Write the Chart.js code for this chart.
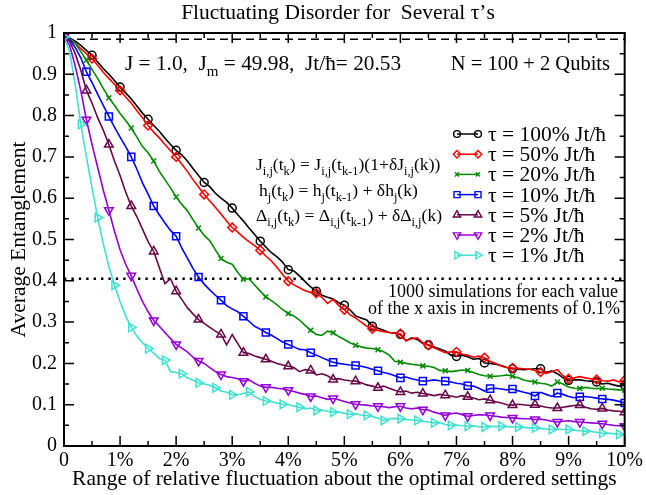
<!DOCTYPE html>
<html>
<head>
<meta charset="utf-8">
<script src="https://cdn.jsdelivr.net/npm/chart.js@4.4.0/dist/chart.umd.min.js"></script>
<style>
  html, body { margin: 0; padding: 0; background: #fff; }
</style>
</head>
<body>
<canvas id="chart" width="646" height="495"></canvas>
<script>
// x axis: 0% .. 10% in 0.1% steps (one point per simulation batch)
const fluctuation = Array.from({ length: 101 }, (_, i) => i / 10);
const xTicks = [0, 1, 2, 3, 4, 5, 6, 7, 8, 9, 10];
const yTicks = [0, 0.1, 0.2, 0.3, 0.4, 0.5, 0.6, 0.7, 0.8, 0.9, 1];

const seriesLabels = ['100%', '50%', '20%', '10%', '5%', '2%', '1%'];

const tau100 = [
  0.99, 0.988, 0.98, 0.97, 0.958, 0.946, 0.93, 0.914, 0.9, 0.885,
  0.869, 0.855, 0.84, 0.823, 0.806, 0.791, 0.776, 0.762, 0.745, 0.73,
  0.716, 0.705, 0.69, 0.672, 0.655, 0.638, 0.628, 0.612, 0.6, 0.59,
  0.576, 0.56, 0.545, 0.528, 0.512, 0.496, 0.482, 0.468, 0.458, 0.445,
  0.427, 0.424, 0.412, 0.398, 0.385, 0.375, 0.365, 0.36, 0.356, 0.347,
  0.341, 0.33, 0.315, 0.31, 0.305, 0.29, 0.285, 0.28, 0.275, 0.274,
  0.27, 0.255, 0.262, 0.258, 0.248, 0.245, 0.24, 0.235, 0.23, 0.22,
  0.217, 0.22, 0.216, 0.21, 0.212, 0.201, 0.2, 0.198, 0.195, 0.19,
  0.187, 0.186, 0.185, 0.186, 0.187, 0.187, 0.178, 0.182, 0.175, 0.165,
  0.159, 0.16, 0.16, 0.158, 0.157, 0.155, 0.15, 0.152, 0.148, 0.145,
  0.147
];
const tau50 = [
  0.99, 0.985, 0.975, 0.962, 0.95, 0.938, 0.922, 0.905, 0.89, 0.876,
  0.861, 0.845, 0.83, 0.812, 0.795, 0.776, 0.76, 0.746, 0.73, 0.715,
  0.7, 0.683, 0.665, 0.645, 0.627, 0.609, 0.593, 0.578, 0.562, 0.545,
  0.529, 0.518, 0.505, 0.495, 0.485, 0.474, 0.46, 0.448, 0.432, 0.415,
  0.399, 0.39, 0.383, 0.376, 0.372, 0.37, 0.36, 0.345, 0.355, 0.34,
  0.33, 0.318, 0.31, 0.3, 0.29, 0.284, 0.28, 0.277, 0.275, 0.273,
  0.272, 0.255, 0.26, 0.262, 0.25, 0.244, 0.238, 0.232, 0.226, 0.228,
  0.228, 0.222, 0.22, 0.215, 0.218, 0.214, 0.205, 0.2, 0.193, 0.19,
  0.189, 0.188, 0.187, 0.186, 0.183, 0.179, 0.176, 0.18, 0.185, 0.17,
  0.163, 0.165, 0.168, 0.165, 0.163, 0.161, 0.158, 0.157, 0.16, 0.155,
  0.159
];
const tau20 = [
  0.99, 0.988, 0.975, 0.955, 0.934, 0.912, 0.89, 0.866, 0.843, 0.825,
  0.805, 0.788, 0.77, 0.748, 0.725, 0.71, 0.69, 0.665, 0.645, 0.625,
  0.603, 0.585, 0.57, 0.548, 0.528, 0.51, 0.497, 0.475, 0.454, 0.445,
  0.44, 0.42, 0.404, 0.405, 0.39, 0.375, 0.361, 0.352, 0.342, 0.33,
  0.321, 0.315, 0.305, 0.292, 0.28, 0.27, 0.268, 0.278, 0.274, 0.265,
  0.258, 0.25, 0.244, 0.24, 0.237, 0.236, 0.233, 0.228, 0.22, 0.205,
  0.203, 0.2, 0.198, 0.196, 0.194, 0.193, 0.19, 0.183, 0.182, 0.18,
  0.182, 0.184, 0.183, 0.178, 0.173, 0.17, 0.169, 0.169, 0.17, 0.172,
  0.169, 0.165, 0.16, 0.157, 0.155, 0.152, 0.15, 0.145, 0.155, 0.15,
  0.143, 0.14, 0.139, 0.142, 0.14, 0.139, 0.14, 0.138, 0.137, 0.136,
  0.135
];
const tau10 = [
  0.99, 0.985, 0.965, 0.94, 0.906, 0.88, 0.852, 0.825, 0.798, 0.772,
  0.748, 0.725, 0.7, 0.67, 0.637, 0.61, 0.581, 0.56, 0.54, 0.522,
  0.508, 0.48, 0.455, 0.43, 0.409, 0.392, 0.378, 0.365, 0.353, 0.34,
  0.332, 0.325, 0.314, 0.302, 0.29, 0.283, 0.275, 0.268, 0.26, 0.252,
  0.246, 0.24, 0.234, 0.233, 0.226, 0.22, 0.214, 0.208, 0.203, 0.2,
  0.198, 0.196, 0.195, 0.193, 0.19, 0.186, 0.182, 0.178, 0.175, 0.17,
  0.165, 0.167, 0.163, 0.16, 0.157, 0.158, 0.16, 0.158, 0.157, 0.155,
  0.152, 0.15, 0.146, 0.145, 0.14, 0.133, 0.139, 0.14, 0.138, 0.136,
  0.138, 0.134, 0.13, 0.127, 0.121, 0.13, 0.125, 0.12, 0.128, 0.125,
  0.12, 0.117, 0.119, 0.12, 0.118, 0.116, 0.114, 0.113, 0.111, 0.108,
  0.104
];
const tau5 = [
  0.99, 0.98, 0.95, 0.91, 0.861, 0.83, 0.795, 0.765, 0.73, 0.69,
  0.655, 0.615, 0.581, 0.555, 0.525, 0.495, 0.471, 0.432, 0.393, 0.405,
  0.375, 0.355, 0.335, 0.32, 0.306, 0.297, 0.287, 0.278, 0.27, 0.245,
  0.27, 0.248, 0.226, 0.224, 0.218, 0.214, 0.21, 0.205, 0.2, 0.196,
  0.193, 0.19, 0.18, 0.185, 0.183, 0.172, 0.175, 0.17, 0.161, 0.163,
  0.16, 0.158, 0.157, 0.153, 0.148, 0.145, 0.141, 0.145, 0.14, 0.135,
  0.131, 0.133, 0.128, 0.13, 0.127, 0.125, 0.122, 0.125, 0.123, 0.121,
  0.118, 0.122, 0.119, 0.116, 0.112, 0.114, 0.111, 0.107, 0.104, 0.1,
  0.099, 0.101, 0.1, 0.098, 0.1, 0.097, 0.094, 0.092, 0.092, 0.094,
  0.096, 0.098, 0.099, 0.094, 0.09, 0.089, 0.091, 0.087, 0.085, 0.084,
  0.082
];
const tau2 = [
  0.99, 0.97, 0.92, 0.86, 0.79, 0.73, 0.675, 0.62, 0.571, 0.52,
  0.475, 0.44, 0.412, 0.38, 0.35, 0.325, 0.304, 0.29, 0.275, 0.26,
  0.246, 0.237, 0.228, 0.215, 0.206, 0.2, 0.19, 0.18, 0.173, 0.168,
  0.166, 0.163, 0.157, 0.16, 0.152, 0.145, 0.142, 0.142, 0.14, 0.138,
  0.135, 0.132, 0.128, 0.125, 0.12, 0.121, 0.117, 0.113, 0.115, 0.112,
  0.108, 0.104, 0.101, 0.1, 0.099, 0.097, 0.096, 0.095, 0.093, 0.095,
  0.096, 0.092, 0.09, 0.092, 0.088, 0.087, 0.082, 0.078, 0.074, 0.078,
  0.08, 0.076, 0.072, 0.074, 0.076, 0.075, 0.074, 0.072, 0.07, 0.069,
  0.068, 0.067, 0.066, 0.066, 0.064, 0.065, 0.063, 0.06, 0.058, 0.06,
  0.061, 0.059, 0.058, 0.057, 0.056, 0.055, 0.054, 0.052, 0.05, 0.049,
  0.048
];
const tau1 = [
  0.99, 0.955, 0.875, 0.779, 0.7, 0.625, 0.553, 0.49, 0.435, 0.389,
  0.35, 0.315, 0.287, 0.266, 0.25, 0.236, 0.225, 0.212, 0.208, 0.18,
  0.178, 0.175, 0.165, 0.16, 0.153, 0.15, 0.147, 0.141, 0.133, 0.13,
  0.124, 0.124, 0.127, 0.131, 0.12, 0.113, 0.109, 0.107, 0.104, 0.101,
  0.1, 0.097, 0.094, 0.09, 0.092, 0.086, 0.087, 0.084, 0.082, 0.083,
  0.079, 0.077, 0.078, 0.075, 0.074, 0.071, 0.068, 0.062, 0.066, 0.067,
  0.066, 0.064, 0.063, 0.062, 0.06, 0.058, 0.056, 0.057, 0.052, 0.05,
  0.051, 0.049, 0.048, 0.049, 0.047, 0.046, 0.048, 0.047, 0.048, 0.047,
  0.046, 0.046, 0.045, 0.044, 0.044, 0.042, 0.041, 0.04, 0.041, 0.04,
  0.04, 0.038, 0.037, 0.036, 0.035, 0.033, 0.031, 0.031, 0.03, 0.028,
  0.028
];

// reference levels drawn across the plot
const saturationLevel = 0.985;
const thresholdLevel = 0.405;

const SERIF = '"Liberation Serif", "DejaVu Serif", serif';

// styles per series (marker every `step` points, like the original plot)
const styles = [
  { color: '#000000', point: 'circle',   radius: 4,   rot: 0,   step: 5 },
  { color: '#ff0000', point: 'rectRot',  radius: 4.4, rot: 0,   step: 5 },
  { color: '#008b00', point: 'crossRot', radius: 3.5, rot: 0,   step: 4 },
  { color: '#0000ff', point: 'rect',     radius: 5,   rot: 0,   step: 4 },
  { color: '#670748', point: 'triangle', radius: 5,   rot: 0,   step: 4 },
  { color: '#9400d3', point: 'triangle', radius: 5,   rot: 180, step: 4 },
  { color: '#40e0d0', point: 'triangle', radius: 5,   rot: 90,  step: 3 }
];
const allSeries = [tau100, tau50, tau20, tau10, tau5, tau2, tau1];

const datasets = allSeries.map((vals, k) => {
  const s = styles[k];
  return {
    label: seriesLabels[k],
    data: vals.map((v, i) => ({ x: fluctuation[i], y: v })),
    borderColor: s.color,
    borderWidth: 1.6,
    backgroundColor: 'rgba(0,0,0,0)',
    pointStyle: s.point,
    pointRotation: s.rot,
    pointBorderWidth: 1.5,
    pointBorderColor: s.color,
    pointBackgroundColor: 'rgba(0,0,0,0)',
    pointRadius: ctx => (ctx.dataIndex % s.step === 0 ? s.radius : 0),
    pointHoverRadius: 0,
    tension: 0,
    order: 7 - k
  };
});

// draws text with subscripts: parts = [[text, isSub], ...]
function richText(ctx, x, y, parts, size, subSize, align) {
  const widths = parts.map(([t, sub]) => {
    ctx.font = `${sub ? subSize : size}px ${SERIF}`;
    return ctx.measureText(t).width;
  });
  let cx = x;
  if (align === 'right') cx = x - widths.reduce((a, b) => a + b, 0);
  ctx.textAlign = 'left';
  parts.forEach(([t, sub], i) => {
    ctx.font = `${sub ? subSize : size}px ${SERIF}`;
    ctx.fillText(t, cx, sub ? y + size * 0.3 : y);
    cx += widths[i];
  });
}

const decor = {
  id: 'decor',
  beforeDatasetsDraw(chart) {
    const { ctx, chartArea: a, scales: { y } } = chart;
    ctx.save();
    ctx.strokeStyle = '#000';
    // dashed line near 1
    ctx.lineWidth = 1.6;
    ctx.setLineDash([8, 5]);
    ctx.beginPath();
    ctx.moveTo(a.left, y.getPixelForValue(saturationLevel));
    ctx.lineTo(a.right, y.getPixelForValue(saturationLevel));
    ctx.stroke();
    // dotted line at 0.4
    ctx.lineWidth = 2.4;
    ctx.setLineDash([2.4, 5]);
    ctx.beginPath();
    ctx.moveTo(a.left, y.getPixelForValue(thresholdLevel));
    ctx.lineTo(a.right, y.getPixelForValue(thresholdLevel));
    ctx.stroke();
    ctx.restore();
  },
  afterDraw(chart) {
    const { ctx, chartArea: a, scales: { x, y } } = chart;
    ctx.save();
    ctx.strokeStyle = '#000';
    ctx.fillStyle = '#000';
    ctx.setLineDash([]);

    // inward ticks on all four sides
    ctx.lineWidth = 1.5;
    ctx.beginPath();
    for (let v = 0; v <= 10.001; v += 0.5) {
      const px = x.getPixelForValue(v);
      const len = Math.abs(v - Math.round(v)) < 1e-6 ? 10 : 5;
      ctx.moveTo(px, a.bottom); ctx.lineTo(px, a.bottom - len);
      ctx.moveTo(px, a.top); ctx.lineTo(px, a.top + len);
    }
    for (let i = 0; i <= 20; i++) {
      const py = y.getPixelForValue(i * 0.05);
      const len = i % 2 === 0 ? 10 : 5;
      ctx.moveTo(a.left, py); ctx.lineTo(a.left + len, py);
      ctx.moveTo(a.right, py); ctx.lineTo(a.right - len, py);
    }
    ctx.stroke();

    // frame
    ctx.lineWidth = 2;
    ctx.strokeRect(a.left, a.top, a.right - a.left, a.bottom - a.top);

    // title
    ctx.textBaseline = 'alphabetic';
    ctx.textAlign = 'center';
    ctx.font = `21.5px ${SERIF}`;
    ctx.fillText('Fluctuating Disorder for  Several \u03c4\u2019s', 338, 19);

    // parameters
    richText(ctx, 125, 70, [['J = 1.0,  J', 0], ['m', 1], [' = 49.98,  Jt/\u0127= 20.53', 0]], 21.3, 15);
    richText(ctx, 610, 70, [['N = 100 + 2 Qubits', 0]], 20.5, 14, 'right');

    // update rules
    richText(ctx, 256, 170, [
      ['J', 0], ['i,j', 1], ['(t', 0], ['k', 1], [') = J', 0], ['i,j', 1], ['(t', 0], ['k-1', 1],
      [')(1+\u03b4J', 0], ['i,j', 1], ['(k))', 0]
    ], 17.6, 12.4);
    richText(ctx, 259, 196, [
      ['h', 0], ['j', 1], ['(t', 0], ['k', 1], [') = h', 0], ['j', 1], ['(t', 0], ['k-1', 1],
      [') + \u03b4h', 0], ['j', 1], ['(k)', 0]
    ], 17.6, 12.4);
    richText(ctx, 256, 221, [
      ['\u0394', 0], ['i,j', 1], ['(t', 0], ['k', 1], [') = \u0394', 0], ['i,j', 1], ['(t', 0], ['k-1', 1],
      [') + \u03b4\u0394', 0], ['i,j', 1], ['(k)', 0]
    ], 17.6, 12.4);

    // simulation note
    ctx.textAlign = 'right';
    ctx.font = `18px ${SERIF}`;
    ctx.fillText('1000 simulations for each value', 618, 297);
    ctx.fillText('of the x axis in increments of 0.1%', 620, 314);

    // legend
    ctx.textAlign = 'left';
    ctx.font = `21.5px ${SERIF}`;
    styles.forEach((s, k) => {
      const base = 141 + k * 20.2;
      const ly = base - 7;
      ctx.strokeStyle = s.color;
      ctx.lineWidth = 1.5;
      ctx.beginPath();
      ctx.moveTo(457, ly); ctx.lineTo(478, ly);
      ctx.stroke();
      ctx.fillStyle = 'rgba(0,0,0,0)';
      ctx.lineWidth = 1.4;
      const opts = { pointStyle: s.point, radius: s.radius * 0.85, rotation: s.rot, borderWidth: 1.4 };
      Chart.helpers.drawPoint(ctx, opts, 457, ly);
      Chart.helpers.drawPoint(ctx, opts, 478, ly);
      ctx.fillStyle = '#000';
      ctx.fillText('\u03c4 = ' + seriesLabels[k] + ' Jt/\u0127', 488, base);
    });
    ctx.restore();
  }
};

new Chart(document.getElementById('chart'), {
  type: 'line',
  data: { datasets },
  options: {
    responsive: false,
    animation: false,
    events: [],
    layout: { padding: { left: 0, top: 33, right: 16, bottom: 0 } },
    plugins: { legend: { display: false }, tooltip: { enabled: false } },
    scales: {
      x: {
        type: 'linear',
        min: 0,
        max: 10,
        afterFit: s => { s.height = 49; },
        afterBuildTicks: s => { s.ticks = xTicks.map(v => ({ value: v })); },
        grid: { display: false, drawTicks: false },
        border: { display: false },
        ticks: {
          autoSkip: false,
          maxRotation: 0,
          padding: 3,
          color: '#000',
          font: { family: SERIF, size: 20 },
          callback: v => (v === 0 ? '0' : v + '%')
        },
        title: {
          display: true,
          text: 'Range of relative fluctuation about the optimal ordered settings',
          color: '#000',
          font: { family: SERIF, size: 21.5 },
          padding: { top: 0, bottom: 3 }
        }
      },
      y: {
        type: 'linear',
        min: 0,
        max: 1,
        afterFit: s => { s.width = 64; },
        afterBuildTicks: s => { s.ticks = yTicks.map(v => ({ value: v })); },
        grid: { display: false, drawTicks: false },
        border: { display: false },
        ticks: {
          padding: 7,
          color: '#000',
          font: { family: SERIF, size: 20 },
          callback: v => String(+v.toFixed(1))
        },
        title: {
          display: true,
          text: 'Average Entanglement',
          color: '#000',
          font: { family: SERIF, size: 21.5 },
          padding: { top: 6, bottom: 0 }
        }
      }
    }
  },
  plugins: [decor]
});
</script>
</body>
</html>
